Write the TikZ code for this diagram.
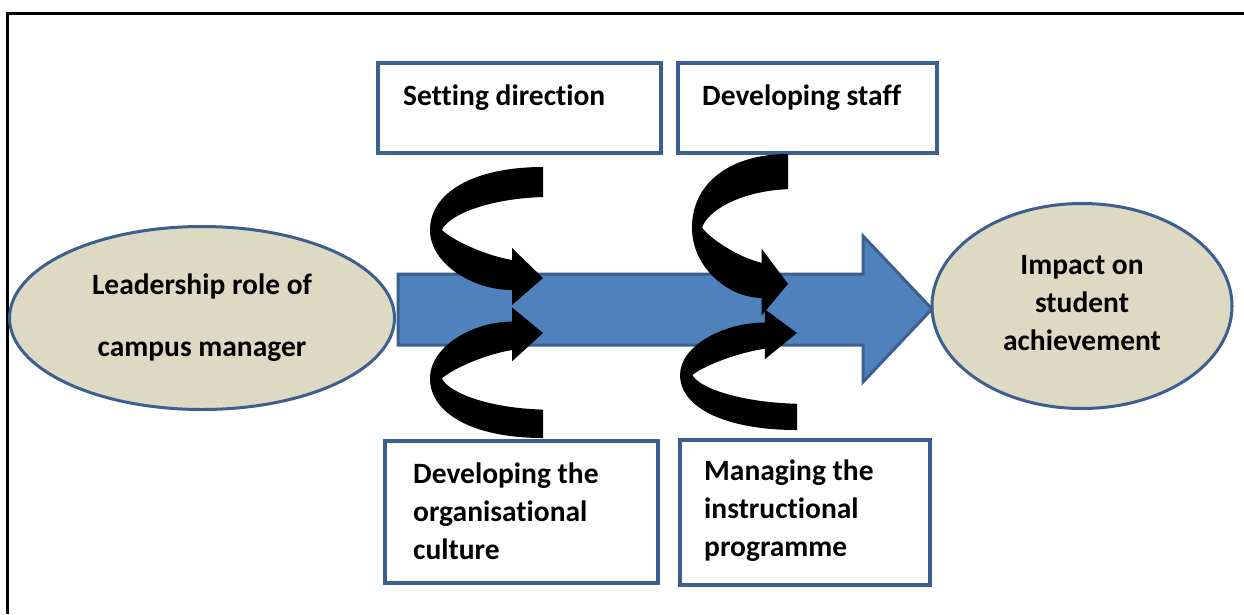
\documentclass[tikz,border=0pt]{standalone}
\usepackage{fontspec}
\setmainfont[Ligatures={NoCommon}]{Carlito}
\usetikzlibrary{shapes.geometric}
\definecolor{arrowblue}{HTML}{4F81BD}
\definecolor{edgeblue}{HTML}{3B5F8F}
\definecolor{tan}{HTML}{DDD9C3}
\newcommand{\curlarrow}[4]{%
\begin{scope}[shift={(#1,#2)}, xscale=#3, yscale=#4]
\fill[black] (0,0) .. controls (-70,0) and (-113,26) .. (-113,63)
  .. controls (-113,97) and (-70,123) .. (-31,123) -- (-31,138) -- (0,111) -- (-31,81) -- (-31,93)
  .. controls (-60,88) and (-92,72) .. (-101,63)
  .. controls (-96,50) and (-60,32) .. (0,30) -- cycle;
\end{scope}}
\begin{document}
\begin{tikzpicture}[x=1pt,y=-1pt,
  txt/.style={font=\bfseries\fontsize{29.5}{38}\selectfont, inner sep=0pt},
  oval/.style={ellipse, draw=edgeblue, line width=3pt, fill=tan, inner sep=0pt, align=center, txt},
  box/.style={rectangle, draw=edgeblue, line width=3.5pt, fill=white, inner sep=0pt},
  boxtext/.style={txt, anchor=west, align=left}]
\useasboundingbox (0,0) rectangle (1244,614);
\fill[white] (0,0) rectangle (1244,614);
\draw[line width=3pt] (7,614) -- (7,13) -- (1244,13);
% ellipses
\node[oval, minimum width=385pt, minimum height=183pt] (lead) at (202,318) {Leadership role of\\[24pt]campus manager};
\node[oval, minimum width=300pt, minimum height=205pt] (impact) at (1082,306) {};
\node[txt, align=center] (impacttext) at (1082,303) {Impact on\\student\\achievement};
% main arrow
\draw[edgeblue, line width=3pt, fill=arrowblue, line join=miter]
  (398,274) -- (863,274) -- (863,236) -- (932,309) -- (863,382) -- (863,345) -- (398,345) -- cycle;
% boxes
\node[box, minimum width=283pt, minimum height=90pt] (b1) at (519.5,108) {};
\node[box, minimum width=259pt, minimum height=90pt] (b2) at (807.5,108) {};
\node[box, minimum width=273pt, minimum height=142pt] (b3) at (521.5,512) {};
\node[box, minimum width=250pt, minimum height=145pt] (b4) at (805,512.5) {};
\node[boxtext] (t1) at (403,98) {Setting direction};
\node[boxtext] (t2) at (702,98) {Developing staff};
\node[boxtext] (t3) at (413,511) {Developing the\\organisational\\culture};
\node[boxtext] (t4) at (704,511) {Managing the\\instructional\\programme};
% curved arrows
\curlarrow{543}{167}{1}{1}
\curlarrow{543}{438}{1}{-0.946}
\curlarrow{788}{154}{0.85}{1.17}
\curlarrow{797}{430}{1.035}{-0.874}
\end{tikzpicture}
\end{document}
